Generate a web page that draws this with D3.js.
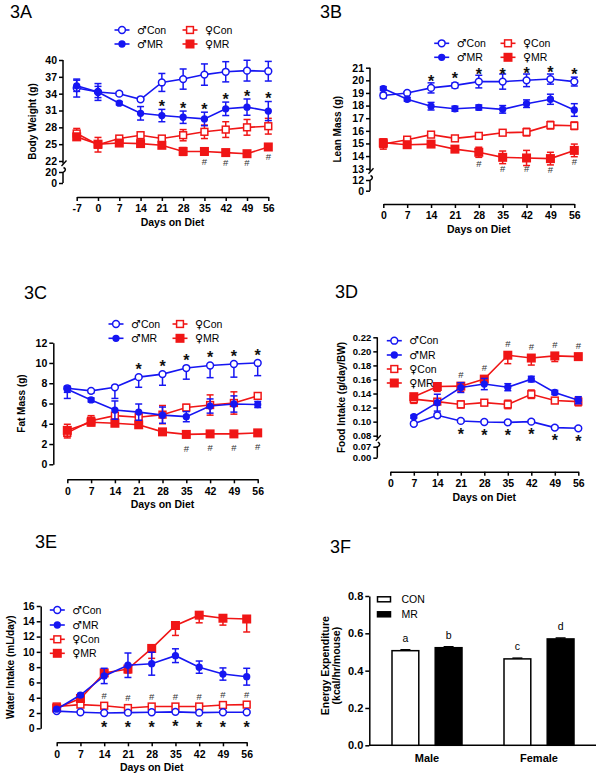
<!DOCTYPE html>
<html><head><meta charset="utf-8">
<script src="https://cdn.jsdelivr.net/npm/d3@7"></script>
<style>
body{margin:0;background:#fff;}
svg{display:block;}
</style></head><body>
<svg id="c" width="600" height="777"></svg>
<script>
// ---------------- DATA ----------------
const seriesSex = ["♂","♂","♀","♀"];
const seriesDiet = ["Con","MR","Con","MR"];
const days = [0,7,14,21,28,35,42,49,56];
const daysA = [-7,0,7,14,21,28,35,42,49,56];
const daysD = [7,14,21,28,35,42,49,56];

// 3A Body weight (g)
const A_mCon = [35.0,34.3,34.0,33.0,36.0,36.6,37.4,37.9,38.1,38.0];
const A_mConErr = [1.6,1.5,0.3,0.3,1.6,1.8,1.9,1.8,1.85,1.75];
const A_mMR = [35.4,34.3,32.3,30.5,30.1,29.8,29.5,31.3,31.6,30.9];
const A_mMRErr = [1.0,1.0,0.3,1.2,1.1,1.1,1.2,1.2,1.45,1.7];
const A_fCon = [26.9,24.9,26.0,26.6,26.0,26.6,27.2,27.6,28.0,28.2];
const A_fConErr = [0.9,1.3,0.3,0.4,0.3,1.0,1.2,1.4,1.4,1.4];
const A_fMR = [26.3,25.0,25.2,25.1,24.8,23.7,23.7,23.5,23.3,24.5];
const A_fMRErr = [0.6,0.4,0.3,0.3,0.3,0.7,0.6,0.5,0.4,0.5];
const A_ticksU = [22,25,28,31,34,37,40], A_ticksL = [0,20];
const A_starDays = [21,28,35,42,49,56], A_hashDays = [35,42,49,56];

// 3B Lean mass (g)
const B_mCon = [18.8,19.0,19.4,19.6,19.9,19.9,20.0,20.1,19.9];
const B_mConErr = [0.2,0.1,0.4,0.2,0.5,0.6,0.5,0.4,0.35];
const B_mMR = [19.35,18.5,17.95,17.75,17.85,17.7,18.15,18.5,17.65];
const B_mMRErr = [0.15,0.15,0.3,0.2,0.2,0.3,0.3,0.4,0.5];
const B_fCon = [14.95,15.3,15.7,15.4,15.6,15.85,15.9,16.45,16.4];
const B_fConErr = [0.4,0.2,0.2,0.2,0.2,0.2,0.3,0.3,0.3];
const B_fMR = [15.05,14.9,14.95,14.55,14.3,13.9,13.85,13.8,14.45];
const B_fMRErr = [0.3,0.1,0.1,0.2,0.4,0.5,0.6,0.5,0.5];
const B_ticksU = [13,14,15,16,17,18,19,20,21], B_ticksL = [0,12];
const B_starDays = [14,21,28,35,42,49,56], B_hashDays = [28,35,42,49,56];

// 3C Fat mass (g)
const C_mCon = [7.5,7.25,7.6,8.6,8.9,9.5,9.75,9.9,10.0];
const C_mConErr = [1.0,0.2,1.1,1.0,1.1,1.1,1.2,1.3,1.25];
const C_mMR = [7.4,6.35,5.35,5.15,4.85,4.7,5.75,5.95,5.9];
const C_mMRErr = [0.3,0.2,0.9,0.8,0.8,0.5,0.7,0.8,0.3];
const C_fCon = [3.1,4.3,4.8,4.65,4.9,5.6,5.85,6.05,6.75];
const C_fConErr = [0.5,0.5,0.2,0.3,0.9,0.3,1.0,1.1,0.3];
const C_fMR = [3.35,4.15,4.05,3.9,3.2,2.95,3.0,3.0,3.1];
const C_fMRErr = [0.6,0.3,0.15,0.2,0.3,0.3,0.2,0.1,0.15];
const C_ticks = [0,2,4,6,8,10,12];
const C_starDays = [21,28,35,42,49,56], C_hashDays = [35,42,49,56];

// 3D Food intake (g/day/BW)
const D_mCon = [0.097,0.109,0.101,0.0995,0.099,0.100,0.0915,0.0905];
const D_mConErr = [0.002,0.003,0.002,0.002,0.002,0.002,0.002,0.002];
const D_mMR = [0.107,0.127,0.1485,0.1535,0.149,0.1605,0.1415,0.1305];
const D_mMRErr = [0.002,0.012,0.007,0.008,0.005,0.004,0.003,0.005];
const D_fCon = [0.132,0.1285,0.1245,0.127,0.1245,0.139,0.130,0.1285];
const D_fConErr = [0.006,0.003,0.005,0.004,0.006,0.006,0.004,0.006];
const D_fMR = [0.1355,0.150,0.1505,0.1605,0.1945,0.1905,0.1935,0.1925];
const D_fMRErr = [0.003,0.007,0.008,0.003,0.012,0.010,0.008,0.004];
const D_ticksU = [0.08,0.10,0.12,0.14,0.16,0.18,0.20,0.22], D_ticksL = [0,0.07];
const D_starDays = [21,28,35,42,49,56], D_hashDays = [21,28,35,42,49,56];

// 3E Water intake (mL/day)
const E_mCon = [2.25,2.1,2.0,2.05,2.1,2.15,2.05,2.1,2.1];
const E_mConErr = [0.15,0.1,0.1,0.1,0.1,0.1,0.1,0.1,0.1];
const E_mMR = [2.5,4.35,6.85,8.25,8.45,9.5,8.0,7.1,6.75];
const E_mMRErr = [0.1,0.2,1.0,1.6,1.5,0.9,0.8,0.8,1.1];
const E_fCon = [2.85,3.1,2.95,2.65,2.85,2.85,2.85,3.05,3.1];
const E_fConErr = [0.1,0.3,0.2,0.1,0.1,0.1,0.1,0.2,0.2];
const E_fMR = [2.65,3.9,7.25,7.75,10.45,13.45,14.8,14.4,14.3];
const E_fMRErr = [0.1,0.3,0.3,0.5,1.3,1.3,1.0,0.9,1.7];
const E_ticks = [0,2,4,6,8,10,12,14,16];
const E_starDays = [14,21,28,35,42,49,56], E_hashDays = [14,21,28,35,42,49,56];

// 3F Energy expenditure (kcal/hr/mouse)
const F_groups = ["Male","Female"];
const F_diets = ["CON","MR"];
const F_CON = [0.507,0.463], F_CONErr = [0.005,0.004];
const F_MR = [0.523,0.570], F_MRErr = [0.005,0.005];
const F_letCON = ["a","c"], F_letMR = ["b","d"];
const F_ticks = [0,0.2,0.4,0.6,0.8];

// ---------------- DRAW ----------------
const FONT = '"Liberation Sans", Arial, Helvetica, sans-serif';
const SYMFONT = '"DejaVu Sans", sans-serif';
const BLUE = "#1616f2", RED = "#f01616";
const svg = d3.select("#c").attr("font-family", FONT);
const KEYS = ["mCon","mMR","fCon","fMR"];

const STYLE = {
  mCon: {color: BLUE, type: "circle", fill: false},
  mMR:  {color: BLUE, type: "circle", fill: true},
  fCon: {color: RED, type: "square", fill: false},
  fMR:  {color: RED, type: "square", fill: true}
};

function drawMarker(g, st, cx, cy) {
  if (st.type === "circle") {
    g.append("circle").attr("cx", cx).attr("cy", cy)
      .attr("r", st.fill ? 2.9 : 3.4)
      .attr("fill", st.fill ? st.color : "#fff")
      .attr("stroke", st.color).attr("stroke-width", 1.5);
  } else {
    const s = st.fill ? 7.5 : 6.8;
    g.append("rect").attr("x", cx - s/2).attr("y", cy - s/2).attr("width", s).attr("height", s)
      .attr("fill", st.fill ? st.color : "#fff")
      .attr("stroke", st.color).attr("stroke-width", 1.5);
  }
}

function styleAxis(g, fs) {
  g.selectAll("text").attr("font-family", FONT).attr("font-size", fs).attr("font-weight", "bold").attr("fill", "#000");
  g.selectAll("line").attr("stroke", "#000").attr("stroke-width", 1.5);
  g.selectAll(".domain").attr("stroke", "#000").attr("stroke-width", 1.5);
}

function panelLabel(txt, x, y) {
  svg.append("text").attr("x", x).attr("y", y).attr("font-size", 18).attr("fill", "#000").text(txt);
}

function yTitle(lines, x, yc, fs) {
  const t = svg.append("text").attr("transform", `translate(${x},${yc}) rotate(-90)`)
    .attr("text-anchor", "middle").attr("font-size", fs || 10).attr("font-weight", "bold").attr("fill", "#000");
  lines.forEach((l, i) => t.append("tspan").attr("x", 0).attr("dy", i === 0 ? "0.35em" : "1.05em").text(l));
  return t;
}

const intFmt = d => String(d);

function linePanel(p) {
  const g = svg.append("g");
  // x axis
  const gx = g.append("g").attr("transform", `translate(0,${p.xAxisY})`)
    .call(d3.axisBottom(p.x).tickValues(p.xticks).tickFormat(intFmt).tickSize(4).tickSizeOuter(0).tickPadding(4));
  styleAxis(gx, 10.5);
  const xr = p.x.range();
  g.append("text").attr("x", (xr[0] + xr[1]) / 2).attr("y", p.xAxisY + 25.3).attr("dy", "0.35em")
    .attr("text-anchor", "middle").attr("font-size", 10.5).attr("font-weight", "bold").text("Days on Diet");

  // y axis
  const yfs = p.yfs || 10.5;
  let yTop, yBot;
  if (p.yL) {
    const a1 = g.append("g").attr("transform", `translate(${p.ax},0)`)
      .call(d3.axisLeft(p.yU).tickValues(p.ticksU).tickFormat(p.fmt).tickSize(4).tickPadding(2));
    const a2 = g.append("g").attr("transform", `translate(${p.ax},0)`)
      .call(d3.axisLeft(p.yL).tickValues(p.ticksL).tickFormat(p.fmt).tickSize(4).tickPadding(2));
    a1.select(".domain").remove(); a2.select(".domain").remove();
    styleAxis(a1, yfs); styleAxis(a2, yfs);
    const ub = p.yU.range()[0], ut = p.yU.range()[1];
    const lb = p.yL.range()[0], lt = p.yL.range()[1];
    const ax = p.ax;
    g.append("path").attr("d", `M${ax},${ut}V${ub + 2.5}`).attr("stroke", "#000").attr("stroke-width", 1.5).attr("fill", "none");
    g.append("path").attr("d", `M${ax - 1.5},${ub + 5}L${ax + 3.5},${ub - 0.5}`).attr("stroke", "#000").attr("stroke-width", 1.3).attr("fill", "none");
    g.append("path").attr("d", `M${ax + 0.5},${lt - 4.5}Q${ax + 4.5},${lt - 2.5} ${ax},${lt + 0.5}V${lb}`).attr("stroke", "#000").attr("stroke-width", 1.5).attr("fill", "none");
    yTop = ut; yBot = lb;
  } else {
    const a = g.append("g").attr("transform", `translate(${p.ax},0)`)
      .call(d3.axisLeft(p.y).tickValues(p.ticks).tickFormat(p.fmt).tickSize(4).tickSizeOuter(0).tickPadding(2));
    styleAxis(a, yfs);
    yTop = p.y.range()[1]; yBot = p.y.range()[0];
  }
  const yf = p.yL ? (v => v >= p.brk ? p.yU(v) : p.yL(v)) : p.y;
  yTitle([p.ytitle], p.ytx, (yTop + yBot) / 2, 10);

  // series
  const order = ["fCon", "fMR", "mCon", "mMR"];
  order.forEach(k => {
    const s = p.series[k], st = STYLE[k];
    const pts = p.xdays.map((d, i) => ({d, v: s.v[i], e: s.e[i]}));
    const sg = g.append("g");
    pts.forEach(pt => {
      const dir = s.dir || "both";
      const up = dir !== "down", dn = dir !== "up";
      const cx = p.x(pt.d);
      const y1 = yf(up ? pt.v + pt.e : pt.v), y2 = yf(dn ? pt.v - pt.e : pt.v);
      sg.append("line").attr("x1", cx).attr("x2", cx).attr("y1", y1).attr("y2", y2).attr("stroke", st.color).attr("stroke-width", 1.5);
      if (up) sg.append("line").attr("x1", cx - 3.5).attr("x2", cx + 3.5).attr("y1", y1).attr("y2", y1).attr("stroke", st.color).attr("stroke-width", 1.5);
      if (dn) sg.append("line").attr("x1", cx - 3.5).attr("x2", cx + 3.5).attr("y1", y2).attr("y2", y2).attr("stroke", st.color).attr("stroke-width", 1.5);
    });
    sg.append("path").datum(pts).attr("fill", "none").attr("stroke", st.color).attr("stroke-width", 1.6)
      .attr("d", d3.line().x(d => p.x(d.d)).y(d => yf(d.v)));
    pts.forEach(pt => drawMarker(sg, st, p.x(pt.d), yf(pt.v)));
  });

  // annotations
  p.annots.forEach(a => {
    const s = p.series[a.s];
    a.days.forEach(d => {
      const i = p.xdays.indexOf(d);
      let ref;
      if (a.mode === "top") ref = yf(s.v[i] + s.e[i]);
      else if (a.mode === "bottom") ref = yf(s.v[i] - s.e[i]);
      else ref = yf(s.v[i]);
      const t = g.append("text").attr("x", p.x(d)).attr("y", ref + a.off).attr("text-anchor", "middle").attr("fill", a.text === "*" ? "#111" : "#333");
      if (a.text === "*") t.attr("font-size", 16).attr("font-weight", "bold").attr("dy", "0.58em").text("*");
      else t.attr("font-size", 9.5).attr("dy", "0.36em").text("#");
    });
  });

  // legend
  const lg = g.append("g");
  p.legend.forEach(it => {
    const st = STYLE[it.k], ki = KEYS.indexOf(it.k);
    lg.append("line").attr("x1", it.x - 7.5).attr("x2", it.x + 7.5).attr("y1", it.y).attr("y2", it.y).attr("stroke", st.color).attr("stroke-width", 1.6);
    drawMarker(lg, st, it.x, it.y);
    const t = lg.append("text").attr("x", it.x + 15).attr("y", it.y).attr("dy", "0.36em").attr("font-size", 10.5).attr("fill", "#000");
    t.append("tspan").attr("font-family", SYMFONT).attr("font-size", 11).text(seriesSex[ki]);
    t.append("tspan").text(seriesDiet[ki]);
  });
}

// ---- 3A ----
panelLabel("3A", 10, 18);
linePanel({
  x: d3.scaleLinear().domain([-7, 56]).range([76.7, 268.3]), xticks: daysA, xdays: daysA, xAxisY: 197,
  yU: d3.scaleLinear().domain([22, 40]).range([161, 60]), ticksU: A_ticksU,
  yL: d3.scaleLinear().domain([0, 20]).range([183, 172]), ticksL: A_ticksL, brk: 21,
  fmt: intFmt, ax: 63, ytx: 32, ytitle: "Body Weight (g)",
  series: {mCon: {v: A_mCon, e: A_mConErr}, mMR: {v: A_mMR, e: A_mMRErr}, fCon: {v: A_fCon, e: A_fConErr}, fMR: {v: A_fMR, e: A_fMRErr}},
  annots: [{text: "*", days: A_starDays, s: "mMR", mode: "top", off: -6.5}, {text: "#", days: A_hashDays, s: "fMR", mode: "bottom", off: 7}],
  legend: [{k: "mCon", x: 122, y: 30}, {k: "fCon", x: 190, y: 30}, {k: "mMR", x: 122, y: 44}, {k: "fMR", x: 190, y: 44}]
});

// ---- 3B ----
panelLabel("3B", 320, 18);
linePanel({
  x: d3.scaleLinear().domain([0, 56]).range([383.3, 574.3]), xticks: days, xdays: days, xAxisY: 204,
  yU: d3.scaleLinear().domain([13, 21]).range([168.7, 67.7]), ticksU: B_ticksU,
  yL: d3.scaleLinear().domain([0, 12]).range([190.7, 180]), ticksL: B_ticksL, brk: 12.5,
  fmt: intFmt, ax: 370, ytx: 337, ytitle: "Lean Mass (g)",
  series: {mCon: {v: B_mCon, e: B_mConErr}, mMR: {v: B_mMR, e: B_mMRErr}, fCon: {v: B_fCon, e: B_fConErr}, fMR: {v: B_fMR, e: B_fMRErr}},
  annots: [{text: "*", days: B_starDays, s: "mCon", mode: "pt", off: -10.5}, {text: "#", days: B_hashDays, s: "fMR", mode: "pt", off: 10.8}],
  legend: [{k: "mCon", x: 441.7, y: 43.3}, {k: "fCon", x: 508, y: 43.3}, {k: "mMR", x: 441.7, y: 57.3}, {k: "fMR", x: 508, y: 57.3}]
});

// ---- 3C ----
panelLabel("3C", 24, 298.5);
linePanel({
  x: d3.scaleLinear().domain([0, 56]).range([67.3, 257.7]), xticks: days, xdays: days, xAxisY: 479.3,
  y: d3.scaleLinear().domain([0, 12]).range([464.3, 342.7]), ticks: C_ticks,
  fmt: intFmt, ax: 53.3, ytx: 21.7, ytitle: "Fat Mass (g)",
  series: {mCon: {v: C_mCon, e: C_mConErr, dir: "down"}, mMR: {v: C_mMR, e: C_mMRErr}, fCon: {v: C_fCon, e: C_fConErr}, fMR: {v: C_fMR, e: C_fMRErr}},
  annots: [{text: "*", days: C_starDays, s: "mCon", mode: "pt", off: -11.5}, {text: "#", days: C_hashDays, s: "fMR", mode: "pt", off: 14}],
  legend: [{k: "mCon", x: 116, y: 324}, {k: "fCon", x: 180, y: 324}, {k: "mMR", x: 116, y: 338.3}, {k: "fMR", x: 180, y: 338.3}]
});

// ---- 3D ----
panelLabel("3D", 335, 298);
linePanel({
  x: d3.scaleLinear().domain([0, 56]).range([390.3, 578.3]), xticks: days, xdays: daysD, xAxisY: 471.7,
  yU: d3.scaleLinear().domain([0.08, 0.22]).range([435.7, 337.3]), ticksU: D_ticksU,
  yL: d3.scaleLinear().domain([0, 0.07]).range([457.7, 446.7]), ticksL: D_ticksL, brk: 0.075,
  fmt: d3.format(".2f"), ax: 377.3, ytx: 341.7, ytitle: "Food Intake (g/day/BW)", yfs: 9.5,
  series: {mCon: {v: D_mCon, e: D_mConErr}, mMR: {v: D_mMR, e: D_mMRErr}, fCon: {v: D_fCon, e: D_fConErr}, fMR: {v: D_fMR, e: D_fMRErr, dir: "down"}},
  annots: [{text: "*", days: D_starDays, s: "mCon", mode: "pt", off: 9.5}, {text: "#", days: D_hashDays, s: "fMR", mode: "pt", off: -11.5}],
  legend: [{k: "mCon", x: 394.3, y: 340.7}, {k: "mMR", x: 394.3, y: 355}, {k: "fCon", x: 394.3, y: 369}, {k: "fMR", x: 394.3, y: 383}]
});

// ---- 3E ----
panelLabel("3E", 35, 548);
linePanel({
  x: d3.scaleLinear().domain([0, 56]).range([56.7, 246.7]), xticks: days, xdays: days, xAxisY: 742.3,
  y: d3.scaleLinear().domain([0, 16]).range([728.3, 606]), ticks: E_ticks,
  fmt: intFmt, ax: 40.7, ytx: 10, ytitle: "Water Intake (mL/day)",
  series: {mCon: {v: E_mCon, e: E_mConErr}, mMR: {v: E_mMR, e: E_mMRErr}, fCon: {v: E_fCon, e: E_fConErr}, fMR: {v: E_fMR, e: E_fMRErr, dir: "down"}},
  annots: [{text: "*", days: E_starDays, s: "mCon", mode: "pt", off: 11}, {text: "#", days: E_hashDays, s: "fCon", mode: "pt", off: -10}],
  legend: [{k: "mCon", x: 57.3, y: 610}, {k: "mMR", x: 57.3, y: 625}, {k: "fCon", x: 57.3, y: 639.3}, {k: "fMR", x: 57.3, y: 653.3}]
});

// ---- 3F ----
panelLabel("3F", 330, 553);
(function () {
  const g = svg.append("g");
  const y = d3.scaleLinear().domain([0, 0.8]).range([745.3, 596]);
  const xg = d3.scaleBand().domain(F_groups).range([371, 595]).padding(0);
  const xs = d3.scaleBand().domain(F_diets).range([21, 91]).paddingInner(0.38).paddingOuter(0);
  const ax = 369.3;
  const a = g.append("g").attr("transform", `translate(${ax},0)`)
    .call(d3.axisLeft(y).tickValues(F_ticks).tickFormat(d3.format(".1f")).tickSize(4).tickSizeOuter(0).tickPadding(2));
  styleAxis(a, 11);
  g.append("line").attr("x1", ax).attr("x2", 596).attr("y1", y(0)).attr("y2", y(0)).attr("stroke", "#000").attr("stroke-width", 1.5);
  const vals = {CON: F_CON, MR: F_MR}, errs = {CON: F_CONErr, MR: F_MRErr}, lets = {CON: F_letCON, MR: F_letMR};
  F_groups.forEach((grp, gi) => {
    F_diets.forEach(dt => {
      const x0 = xg(grp) + xs(dt), w = xs.bandwidth(), v = vals[dt][gi], e = errs[dt][gi];
      const cx = x0 + w / 2;
      g.append("line").attr("x1", cx).attr("x2", cx).attr("y1", y(v)).attr("y2", y(v + e)).attr("stroke", "#000").attr("stroke-width", 1.5);
      g.append("line").attr("x1", cx - 5).attr("x2", cx + 5).attr("y1", y(v + e)).attr("y2", y(v + e)).attr("stroke", "#000").attr("stroke-width", 1.5);
      g.append("rect").attr("x", x0).attr("y", y(v)).attr("width", w).attr("height", y(0) - y(v))
        .attr("fill", dt === "CON" ? "#fff" : "#000").attr("stroke", "#000").attr("stroke-width", 1.5);
      g.append("text").attr("x", cx).attr("y", y(v + e) - 8).attr("text-anchor", "middle").attr("font-size", 10.5).attr("fill", "#000").text(lets[dt][gi]);
    });
    g.append("text").attr("x", xg(grp) + xg.bandwidth() / 2).attr("y", 758.3).attr("dy", "0.36em")
      .attr("text-anchor", "middle").attr("font-size", 11).attr("font-weight", "bold").text(grp);
  });
  F_diets.forEach((dt, i) => {
    const ly = 599.3 + i * 15;
    g.append("rect").attr("x", 377.5).attr("y", ly - 2.5).attr("width", 13).attr("height", 5)
      .attr("fill", dt === "CON" ? "#fff" : "#000").attr("stroke", "#000").attr("stroke-width", 1.5);
    g.append("text").attr("x", 401.5).attr("y", ly).attr("dy", "0.36em").attr("font-size", 10.5).text(dt);
  });
  yTitle(["Energy Expenditure", "(kcal/hr/mouse)"], 325, 670.5, 10.5).attr("transform", `translate(325,${(y.range()[0] + y.range()[1]) / 2 - 5}) rotate(-90)`);
})();
</script>
</body></html>
